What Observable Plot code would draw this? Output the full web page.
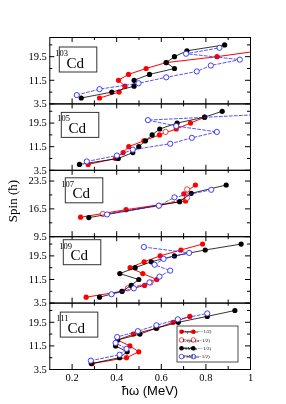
<!DOCTYPE html>
<html><head><meta charset="utf-8">
<script src="https://cdn.jsdelivr.net/npm/d3@7"></script>
<script src="https://cdn.jsdelivr.net/npm/@observablehq/plot@0.6"></script>
<style>
body{margin:0;background:#fff;}
#chart{position:relative;width:286px;height:404px;overflow:hidden;background:#fff;}
#chart svg{position:absolute;left:0;top:0;overflow:visible;transform:translateZ(0);}
</style></head><body><div id="chart"></div>
<script>
// ---- data: [ħω (MeV), spin (ħ)] ----
const nuclei = ["103", "105", "107", "109", "111"];

const cd103ExptNeg = [[0.323,5.5],[0.411,7.5],[0.437,9.5],[0.408,11.5],[0.453,13.5],[0.532,15.5],[0.622,17.5],[0.850,19.5],[1.04,21.5]];
const cd103ExptPos = [];
const cd103PsmNeg  = [[0.241,5.5],[0.378,7.5],[0.478,9.5],[0.478,11.5],[0.547,13.5],[0.659,15.5],[0.622,17.5],[0.659,19.5],[0.715,21.5],[0.884,23.5]];
const cd103PsmPos  = [[0.221,6.5],[0.323,8.5],[0.498,10.5],[0.622,12.5],[0.759,14.5],[0.822,16.5],[0.952,18.5],[0.711,20.5],[0.861,22.5]];

const cd105ExptNeg = [[0.272,5.5],[0.395,7.5],[0.429,9.5],[0.454,11.5],[0.522,13.5],[0.592,15.5],[0.667,17.5],[0.731,19.5],[0.794,21.5]];
const cd105ExptPos = [[0.619,16.5]];
const cd105PsmNeg  = [[0.233,5.5],[0.407,7.5],[0.472,9.5],[0.499,11.5],[0.529,13.5],[0.559,15.5],[0.593,17.5],[0.671,19.5],[0.794,21.5],[0.873,23.5]];
const cd105PsmPos  = [[0.266,6.5],[0.401,8.5],[0.472,10.5],[0.640,12.5],[0.737,14.5],[0.849,16.5],[0.667,18.5],[0.540,20.5],[1.07,22.5]];

const cd107ExptNeg = [[0.238,14.4],[0.442,16.3],[0.709,18.5],[0.701,20.3],[0.753,22.5]];
const cd107ExptPos = [[0.338,15.2],[0.589,17.3],[0.716,19.3],[0.716,21.4]];
const cd107PsmNeg  = [[0.275,14.3],[0.682,18.3],[0.734,20.4],[0.891,22.5]];
const cd107PsmPos  = [[0.357,15.1],[0.589,17.3],[0.659,19.4],[0.824,21.3]];

const cd109ExptNeg = [[0.263,5.5],[0.424,7.5],[0.525,9.5],[0.580,11.5],[0.517,13.5],[0.460,15.5],[0.523,17.5],[0.595,19.5],[0.688,21.5],[0.785,23.5]];
const cd109ExptPos = [[0.450,8.5],[0.552,10.5]];
const cd109PsmNeg  = [[0.323,5.5],[0.424,7.5],[0.465,9.5],[0.499,11.5],[0.414,13.5],[0.483,15.5],[0.555,17.5],[0.659,19.5],[0.797,21.5],[0.958,23.5]];
const cd109PsmPos  = [[0.377,6.5],[0.477,8.5],[0.547,10.5],[0.592,12.5],[0.640,14.5],[0.570,16.5],[0.610,18.5],[0.725,20.5],[0.522,22.5]];

const cd111ExptNeg = [[0.290,5.5],[0.444,7.5],[0.499,9.5],[0.459,11.5],[0.404,13.5],[0.475,15.5],[0.580,17.5],[0.653,19.5],[0.728,21.5]];
const cd111ExptPos = [];
const cd111PsmNeg  = [[0.286,5.5],[0.413,7.5],[0.447,9.5],[0.395,11.5],[0.404,13.5],[0.504,15.5],[0.577,17.5],[0.676,19.5],[0.806,21.5],[0.930,23.5]];
const cd111PsmPos  = [[0.284,6.5],[0.413,8.5],[0.444,10.5],[0.395,12.5],[0.402,14.5],[0.495,16.5],[0.578,18.5],[0.674,20.5],[0.806,22.5]];

const yDomains   = [[3.5,26],[3.5,26],[9.5,26.2],[3.5,26],[3.5,26]];
const yMajor     = [[3.5,11.5,19.5],[3.5,11.5,19.5],[9.5,16.5,23.5],[3.5,11.5,19.5],[3.5,11.5,19.5]];
const yMinor     = [[7.5,15.5,23.5],[7.5,15.5,23.5],[13,20],[7.5,15.5,23.5],[7.5,15.5,23.5]];
const xMajor     = [0.2,0.4,0.6,0.8,1];
const xMinor     = [0.3,0.5,0.7,0.9];
const xDomain    = [0.1,1];
const legendLabels = ["Expt. (α=−1/2)","Expt. (α=1/2)","PSM (α=−1/2)","PSM (α=1/2)"];

const series = [
  [cd103ExptNeg, cd103ExptPos, cd103PsmNeg, cd103PsmPos],
  [cd105ExptNeg, cd105ExptPos, cd105PsmNeg, cd105PsmPos],
  [cd107ExptNeg, cd107ExptPos, cd107PsmNeg, cd107PsmPos],
  [cd109ExptNeg, cd109ExptPos, cd109PsmNeg, cd109PsmPos],
  [cd111ExptNeg, cd111ExptPos, cd111PsmNeg, cd111PsmPos]
];

// ---- styles ----
const styles = [
  {color:"#ff0000", fill:"#ff0000", dash:null, sw:1},
  {color:"#ff2020", fill:"#ffffff", dash:"3,2", sw:0.8},
  {color:"#000000", fill:"#000000", dash:null, sw:0.8},
  {color:"#2a2aff", fill:"#ffffff", dash:"3,2", sw:0.8}
];
const W = 286, H = 404, L = 49.3, R = 250;
const tops = [37, 103.4, 169.8, 236.2, 302.6, 369];
const boxOff = [[10,10],[12,9],[16,8],[14,3.5],[11,9.5]];
const serif = "'Liberation Serif','Times New Roman',serif";

const chart = document.getElementById("chart");

for (let i = 0; i < 5; i++) {
  const ft = tops[i], fb = tops[i+1];
  const fh = fb - ft, fw = R - L;
  const marks = [];
  series[i].forEach((data, k) => {
    const s = styles[k];
    if (!data.length) return;
    marks.push(Plot.line(data, {x: d => d[0], y: d => d[1], stroke: s.color, strokeWidth: s.sw,
      strokeDasharray: s.dash, clip: true}));
    marks.push(Plot.dot(data, {x: d => d[0], y: d => d[1], r: 2.6, fill: s.fill,
      stroke: k === 1 || k === 3 ? s.color : "none", strokeWidth: 0.9, clip: true}));
  });
  marks.push(
    Plot.tickY(yMajor[i], {y: d => d, insetRight: fw - 5, stroke: "#000"}),
    Plot.tickY(yMinor[i], {y: d => d, insetRight: fw - 3, stroke: "#000"}),
    Plot.tickY(yMajor[i], {y: d => d, insetLeft: fw - 5, stroke: "#000"}),
    Plot.tickY(yMinor[i], {y: d => d, insetLeft: fw - 3, stroke: "#000"}),
    Plot.tickX(xMajor, {x: d => d, insetBottom: fh - 5, stroke: "#000"}),
    Plot.tickX(xMinor, {x: d => d, insetBottom: fh - 3, stroke: "#000"}),
    Plot.tickX(xMajor, {x: d => d, insetTop: fh - 5, stroke: "#000"}),
    Plot.tickX(xMinor, {x: d => d, insetTop: fh - 3, stroke: "#000"}),
    Plot.frame({stroke: "#000", strokeWidth: 1}),
    Plot.axisY(yMajor[i], {tickSize: 0, tickPadding: 3, tickFormat: d => d.toFixed(1), label: null, fontSize: 10.5})
  );
  if (i === 4) {
    marks.push(Plot.axisX(xMajor, {tickSize: 0, tickPadding: 4, tickFormat: d => String(d), label: null, fontSize: 10.5}));
  }
  const svg = Plot.plot({
    width: W, height: H,
    marginLeft: L, marginRight: W - R, marginTop: ft, marginBottom: H - fb,
    x: {domain: xDomain, axis: i === 4 ? undefined : null},
    y: {domain: yDomains[i]},
    style: {background: "transparent", fontFamily: serif, fontSize: "10.5px", color: "#000", overflow: "visible"},
    marks
  });
  chart.appendChild(svg);

  // nucleus label box
  const g = d3.select(svg).append("g").attr("font-family", serif);
  const bx = L + boxOff[i][0], by = ft + boxOff[i][1];
  g.append("rect").attr("x", bx).attr("y", by).attr("width", 37.5).attr("height", 25)
    .attr("fill", "#fff").attr("stroke", "#333").attr("stroke-width", 1);
  g.append("text").attr("x", bx + 2.2).attr("y", by + 9).attr("font-size", 8.5)
    .attr("fill", "#000").text(nuclei[i]);
  g.append("text").attr("x", bx + 16).attr("y", by + 20.5).attr("font-size", 15)
    .attr("fill", "#000").text("Cd");

  if (i === 4) {
    const lg = d3.select(svg).append("g").attr("font-family", serif);
    lg.append("rect").attr("x", 177).attr("y", 326).attr("width", 61).attr("height", 36)
      .attr("fill", "#fff").attr("stroke", "#222").attr("stroke-width", 0.8);
    legendLabels.forEach((lab, k) => {
      const s = styles[k];
      const yy = 331.7 + k * 8.3;
      lg.append("line").attr("x1", 181.5).attr("x2", 193.3).attr("y1", yy).attr("y2", yy)
        .attr("stroke", s.color).attr("stroke-width", 0.8).attr("stroke-dasharray", s.dash);
      [181.5, 193.3].forEach(cx => {
        lg.append("circle").attr("cx", cx).attr("cy", yy).attr("r", 2.3)
          .attr("fill", s.fill).attr("stroke", (k === 1 || k === 3) ? s.color : "none").attr("stroke-width", 0.8);
      });
      lg.append("text").attr("x", 196.5).attr("y", yy).attr("dy", "0.35em").attr("font-size", 5)
        .attr("fill", "#000").text(lab);
    });
  }
}

// axis titles
const ov = d3.select(chart).append("svg").attr("width", W).attr("height", H);
ov.append("text").attr("transform", "translate(17,201) rotate(-90)").attr("text-anchor", "middle")
  .attr("font-family", serif).attr("font-size", 13).attr("fill", "#000").text("Spin (ħ)");
ov.append("text").attr("x", 150).attr("y", 394.5).attr("text-anchor", "middle")
  .attr("font-family", "'Liberation Sans',Arial,sans-serif").attr("font-size", 13).attr("fill", "#000").text("ħω (MeV)");
</script></body></html>
